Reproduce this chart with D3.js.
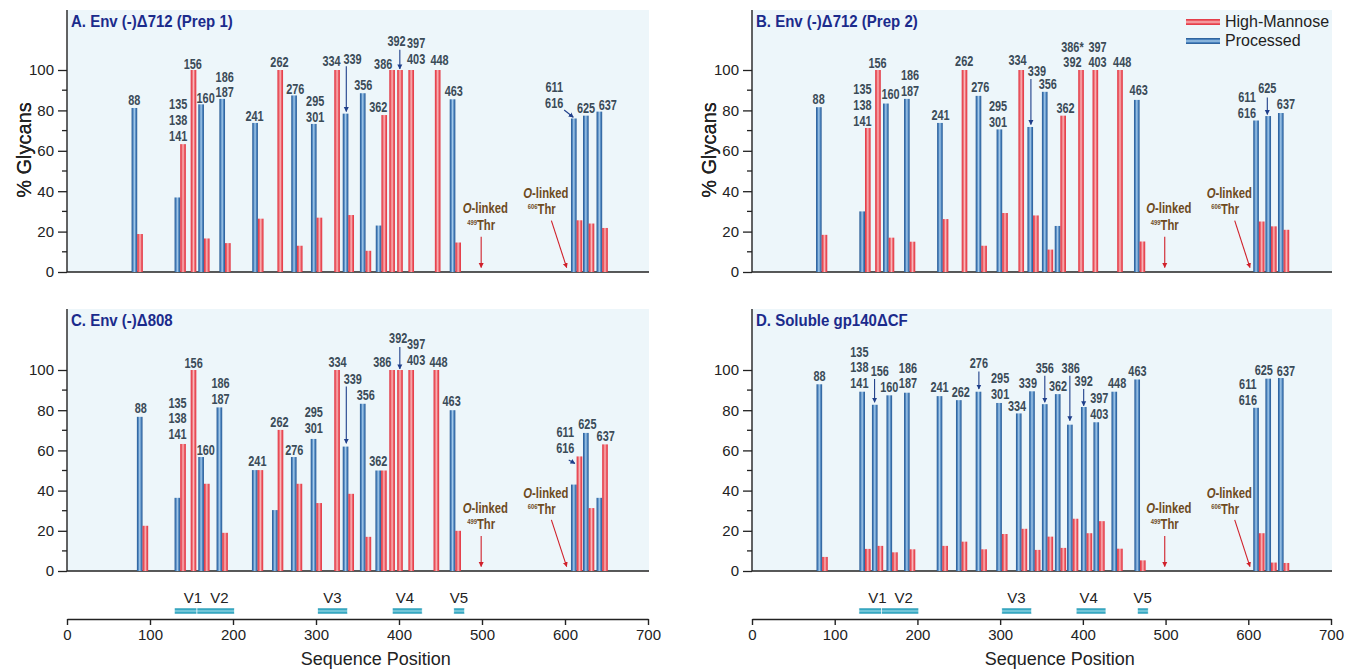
<!DOCTYPE html>
<html>
<head>
<meta charset="utf-8">
<script src="https://cdn.jsdelivr.net/npm/d3@7"></script>
<style>
  body { margin: 0; background: #fff; }
  svg { display: block; font-family: "Liberation Sans", Arial, sans-serif; }
  .site { font-weight: bold; font-size: 14px; fill: #3b4b58; }
  .olink { font-weight: bold; font-size: 14.5px; fill: #6e4b1e; }
  .ttl { font-weight: bold; font-size: 16.5px; fill: #1b2b8c; }
</style>
</head>
<body>
<div id="chart"></div>
<script>
// glycan sites shown in every panel (grouped sites share one pair of bars)
const sites = ["88","135/138/141","156","160","186/187","241","262","276","295/301","334","339","356","362","386","392","397/403","448","463","611/616","625","637"];

// where each pair of bars sits on the sequence axis, per panel
const posA = [84.6,136.4,149,165,190.4,230,253.5,277,300.7,322,339,359.7,378.8,388.3,397.8,411.3,443.2,467.9,614,628.5,644.8];
const posB = [84.2,136.6,148.9,165.2,190.6,230.6,253.5,277.2,302.5,322.1,339.8,357.3,372.8,388,394.4,411.7,441.5,468.6,612.8,627.5,642.7];
const posC = [91,136.4,149,165,187,229.6,253.8,276.6,300.4,322,339,359.7,378.4,388.3,397.8,411.3,441.6,467.9,614,628.5,644.8];
const posD = [84.8,136.6,151.8,169.4,190.6,230.1,253.4,277.2,302.1,325.9,341.9,357.3,373,387.7,404.5,419.6,441.4,469.1,612.8,627.5,642.7];

// % processed (blue) and % high-mannose (red)
const procA = [81.2,36.9,0,83,85.7,73.8,0,87.4,73.3,0,78.4,88.5,23,0,0,0,0,85.5,76,77.4,79.4];
const hmA   = [18.8,63.3,100,16.6,14.3,26.4,100,13,26.9,100,28.2,10.5,77.7,100,100,100,100,14.6,25.6,24,21.8];
const procB = [81.6,30,0,83.4,85.7,73.8,0,87.2,70.6,0,71.8,89.2,22.8,0,0,0,0,85.2,75,77.2,78.7];
const hmB   = [18.4,71.3,100,17,15,26.2,100,13,29.2,100,28,11.1,77.4,0,100,100,100,15.1,25,22.6,20.9];
const procC = [76.7,36.4,0,56.7,81.4,50.2,30.3,56.7,65.7,0,61.9,83.2,50,0,0,0,0,80,43,68.7,36.4];
const hmC   = [22.5,63.2,100,43.4,19,50.2,70.2,43.4,33.8,100,38.4,17,50,100,100,100,100,20,57,31.3,63];
const procD = [92.9,89.2,82.7,87.4,88.7,87,85,89.2,83.6,78.4,89.4,83,88,72.8,81.6,74,89.2,95.3,81.2,95.7,96];
const hmD   = [7,11,12.5,9.3,10.8,12.5,14.6,10.8,18.4,21,10.5,17.1,11.5,26,18.8,24.8,11.1,5.3,18.8,4.2,4];

// site labels: [lines, sequence pos, % of bottom line]
const labA = [[["88"],81,82.7],[["135","138","141"],134,65],[["156"],151.5,100.7],[["160"],167,83.5],[["186","187"],190,86.4],[["241"],226,75],[["262"],256,101.3],[["276"],275,88.2],[["295","301"],299,74.3],[["334"],318.7,102],[["339"],344,103],[["356"],357,90],[["362"],375,79],[["386"],381,100.7],[["392"],397,111.8],[["397","403"],420.6,103],[["448"],448.8,102.6],[["463"],466,86.9],[["611","616"],587,81.1],[["625"],625.4,78.9],[["637"],651.5,80.2]];
const labB = [[["88"],80.6,83],[["135","138","141"],133.5,72.4],[["156"],151.8,101],[["160"],167.5,85.5],[["186","187"],191,87.2],[["241"],228,75.4],[["262"],256.5,101.8],[["276"],276,89],[["295","301"],297.4,71.8],[["334"],321,102.3],[["339"],344.5,97],[["356"],357.6,90.5],[["362"],379,78.7],[["386*","392"],387.4,101.3],[["397","403"],417.8,101.3],[["448"],447.6,101.3],[["463"],467.5,87.7],[["611","616"],598.4,76.4],[["625"],623,88.5],[["637"],645.5,80.7]];
const labC = [[["88"],88.8,78.5],[["135","138","141"],133.2,65.6],[["156"],152.6,101],[["160"],167.2,57.9],[["186","187"],185,83.2],[["241"],229.4,52.4],[["262"],256,71.5],[["276"],273.8,57.9],[["295","301"],297.3,68.6],[["334"],326,101.5],[["339"],344.3,93.2],[["356"],360,85.2],[["362"],375,52],[["386"],379.8,101.5],[["392"],399,113.5],[["397","403"],420.6,102.7],[["448"],447.7,101.5],[["463"],463.4,81.9],[["611","616"],600.3,58.7],[["625"],627,70.7],[["637"],649,64.9]];
const labD = [[["88"],81.7,94.7],[["135","138","141"],129.8,91],[["156"],154.5,97.2],[["160"],166,89.2],[["186","187"],188.5,90.9],[["241"],226.7,88.9],[["262"],252.4,86.4],[["276"],274.3,100.8],[["295","301"],300,85.5],[["334"],320.4,79.4],[["339"],333.5,90.9],[["356"],354,98.3],[["362"],370,89.7],[["386"],385.3,98.3],[["392"],401,91.9],[["397","403"],419.9,75.6],[["448"],441.4,91],[["463"],466,97.2],[["611","616"],599.5,82.7],[["625"],618.8,97.7],[["637"],645.5,97.2]];

// blue pointer arrows: [x1, y1, x2, y2] in sequence pos / %
const arrA = [[336.5,101.8,336.5,79.4],[401,110,401,100.5],[599,80.2,610,76.6]];
const arrB = [[337.2,95.5,337.2,73],[623,86.4,623,78]];
const arrC = [[336.5,91.8,336.5,63.5],[401,111.5,401,100.5],[604.5,55.2,612,53.5]];
const arrD = [[148.2,95.5,148.2,83.9],[274.3,99.3,274.3,90.5],[354,97.2,354,83.9],[384.3,97.2,384.3,74.8],[401,90.5,401,82.2]];

// O-linked threonines
const oSites = ["499","606"];
const oText = [[504,29,499,21],[577,36.4,572,28.6]];
const oArrow = [[499,17.4,499,2.2],[583.6,25.4,602,2.2]];

// variable loops
const vNames = ["V1","V2","V3","V4","V5"];
const vStart = [129.3,156.6,302,391.9,466];
const vEnd = [156.6,201.6,338,427.9,479];
const vLabelAt = [151.6,183.5,319.7,407,472.3];

const yTicks = [0,20,40,60,80,100];
const xTicks = [0,100,200,300,400,500,600,700];

const width = 1361, height = 672;
const barW = 6.8;
const narrow = 0.78; // labels in the figure use a condensed face

const svg = d3.select("#chart").append("svg")
  .attr("width", width).attr("height", height);

const defs = svg.append("defs");

// tube-like striped fills
function stripes(id, edge, mid, light, vertical) {
  const g = defs.append("linearGradient").attr("id", id)
    .attr("x1", 0).attr("y1", 0).attr("x2", vertical ? 0 : 1).attr("y2", vertical ? 1 : 0);
  [[0, edge],[0.25, mid],[0.5, light],[0.75, mid],[1, edge]].forEach(s =>
    g.append("stop").attr("offset", s[0]).attr("stop-color", s[1]));
}
stripes("gBlue", "#245690", "#4a82bd", "#a6cbea", false);
stripes("gRed", "#e1323f", "#ec5a63", "#f8b8ba", false);
stripes("lBlue", "#245690", "#4a82bd", "#a6cbea", true);
stripes("lRed", "#e1323f", "#ec5a63", "#f8b8ba", true);
stripes("gTeal", "#1e93b0", "#35a8c2", "#8fd3e2", true);

function marker(id, col) {
  defs.append("marker").attr("id", id)
    .attr("viewBox", "0 0 10 10").attr("refX", 9).attr("refY", 5)
    .attr("markerWidth", 5).attr("markerHeight", 6).attr("orient", "auto")
    .attr("markerUnits", "userSpaceOnUse")
    .append("path").attr("d", "M0,0 L10,5 L0,10 Z").attr("fill", col);
}
marker("mBlue", "#1f3f8a");
marker("mRed", "#d0202a");

const panels = [
  {title: "A.  Env (-)\u0394712 (Prep 1)", x0: 67, x1: 648, top: 10, y0: 272, y100: 70, pos: posA, proc: procA, hm: hmA, lab: labA, arr: arrA},
  {title: "B.  Env (-)\u0394712 (Prep 2)", x0: 752, x1: 1331, top: 10, y0: 272, y100: 70, pos: posB, proc: procB, hm: hmB, lab: labB, arr: arrB, legend: true},
  {title: "C.  Env (-)\u0394808", x0: 67, x1: 648, top: 309, y0: 571, y100: 370, pos: posC, proc: procC, hm: hmC, lab: labC, arr: arrC},
  {title: "D.  Soluble gp140\u0394CF", x0: 752, x1: 1331, top: 309, y0: 571, y100: 370, pos: posD, proc: procD, hm: hmD, lab: labD, arr: arrD}
];

panels.forEach(p => {
  const x = d3.scaleLinear().domain([0, 700]).range([p.x0, p.x1]);
  const y = d3.scaleLinear().domain([0, 100]).range([p.y0, p.y100]);
  const g = svg.append("g");

  g.append("rect").attr("x", p.x0).attr("y", p.top)
    .attr("width", p.x1 - p.x0 + 1).attr("height", p.y0 - p.top)
    .attr("fill", "#edf6fa");

  // y axis with minor ticks
  const yAx = g.append("g").attr("transform", `translate(${p.x0},0)`)
    .call(d3.axisLeft(y).tickValues(yTicks).tickSize(9).tickPadding(4).tickSizeOuter(0));
  yAx.select(".domain").attr("d", `M0,${p.y0}V${p.top}`).attr("stroke", "#222").attr("stroke-width", 1.4);
  yAx.selectAll(".tick line").attr("stroke", "#222").attr("stroke-width", 1.3);
  yAx.selectAll(".tick text").attr("font-size", "15px").attr("fill", "#222").attr("font-family", "Liberation Sans, Arial, sans-serif");
  g.selectAll(".minor").data([10,30,50,70,90]).join("line")
    .attr("x1", p.x0 - 5).attr("x2", p.x0).attr("y1", d => y(d)).attr("y2", d => y(d))
    .attr("stroke", "#222").attr("stroke-width", 1.3);

  g.append("line").attr("x1", p.x0).attr("x2", p.x1 + 1).attr("y1", p.y0).attr("y2", p.y0)
    .attr("stroke", "#222").attr("stroke-width", 1.6);

  g.append("text").attr("transform", `translate(${p.x0 - 36},150) rotate(-90)`)
    .attr("text-anchor", "middle").attr("font-size", "20px").attr("fill", "#222")
    .text("% Glycans");

  // bars
  g.selectAll(".proc").data(p.proc).join("rect")
    .attr("x", (d, i) => x(p.pos[i] - barW)).attr("width", x(barW) - x(0))
    .attr("y", d => y(d)).attr("height", d => y(0) - y(d))
    .attr("fill", "url(#gBlue)");
  g.selectAll(".hm").data(p.hm).join("rect")
    .attr("x", (d, i) => x(p.pos[i])).attr("width", x(barW) - x(0))
    .attr("y", d => y(d)).attr("height", d => y(0) - y(d))
    .attr("fill", "url(#gRed)");

  // site labels
  p.lab.forEach(l => {
    const t = g.append("text").attr("class", "site").attr("text-anchor", "middle")
      .attr("transform", `translate(${x(l[1])},${y(l[2])}) scale(${narrow},1)`);
    l[0].forEach((s, k) => {
      t.append("tspan").attr("x", 0)
        .attr("y", -(l[0].length - 1 - k) * 15.8).text(s);
    });
  });
  g.selectAll(".arr").data(p.arr).join("line")
    .attr("x1", d => x(d[0])).attr("y1", d => y(d[1]))
    .attr("x2", d => x(d[2])).attr("y2", d => y(d[3]))
    .attr("stroke", "#1f3f8a").attr("stroke-width", 1.1)
    .attr("marker-end", "url(#mBlue)");

  // O-linked notes
  oSites.forEach((s, i) => {
    const o = oText[i];
    const t1 = g.append("text").attr("class", "olink").attr("text-anchor", "middle")
      .attr("transform", `translate(${x(o[0])},${y(o[1])}) scale(0.78,1)`);
    t1.append("tspan").attr("font-style", "italic").text("O");
    t1.append("tspan").text("-linked");
    const t2 = g.append("text").attr("class", "olink").attr("text-anchor", "middle")
      .attr("transform", `translate(${x(o[2])},${y(o[3])}) scale(0.78,1)`);
    t2.append("tspan").attr("font-size", "7.5px").attr("dy", -5).text(s);
    t2.append("tspan").attr("dy", 5).text("Thr");
    const a = oArrow[i];
    g.append("line").attr("x1", x(a[0])).attr("y1", y(a[1])).attr("x2", x(a[2])).attr("y2", y(a[3]))
      .attr("stroke", "#d0202a").attr("stroke-width", 1.1).attr("marker-end", "url(#mRed)");
  });

  g.append("text").attr("class", "ttl")
    .attr("transform", `translate(${p.x0 + 4},${p.top + 17}) scale(0.91,1)`).text(p.title);

  if (p.legend) {
    const lg = g.append("g");
    [["High-Mannose", "url(#lRed)", 19], ["Processed", "url(#lBlue)", 38]].forEach(e => {
      lg.append("rect").attr("x", 1186).attr("y", e[2]).attr("width", 34).attr("height", 6).attr("fill", e[1]);
      lg.append("text").attr("x", 1225).attr("y", e[2] + 7.5).attr("font-size", "16px").attr("fill", "#222").text(e[0]);
    });
  }
});

// sequence axes with variable loops
[[67, 648], [752, 1331]].forEach(r => {
  const x = d3.scaleLinear().domain([0, 700]).range(r);
  const ax = svg.append("g").attr("transform", "translate(0,619)")
    .call(d3.axisBottom(x).tickValues(xTicks).tickSize(6).tickPadding(4).tickSizeOuter(0));
  ax.select(".domain").attr("stroke", "#222").attr("stroke-width", 1.6);
  ax.selectAll(".tick line").attr("stroke", "#222").attr("stroke-width", 1.4);
  ax.selectAll(".tick text").attr("font-size", "15px").attr("fill", "#222").attr("font-family", "Liberation Sans, Arial, sans-serif");

  svg.append("g").selectAll("rect").data(vNames).join("rect")
    .attr("x", (d, i) => x(vStart[i])).attr("width", (d, i) => x(vEnd[i]) - x(vStart[i]))
    .attr("y", 608).attr("height", 6).attr("fill", "url(#gTeal)")
    .attr("stroke", "#fff").attr("stroke-width", 0.6);
  svg.append("g").selectAll("text").data(vNames).join("text")
    .attr("x", (d, i) => x(vLabelAt[i])).attr("y", 603).attr("text-anchor", "middle")
    .attr("font-size", "15px").attr("fill", "#222").text(d => d);

  svg.append("text").attr("x", x(372)).attr("y", 665).attr("text-anchor", "middle")
    .attr("font-size", "18px").attr("fill", "#222").text("Sequence Position");
});
</script>
</body>
</html>
